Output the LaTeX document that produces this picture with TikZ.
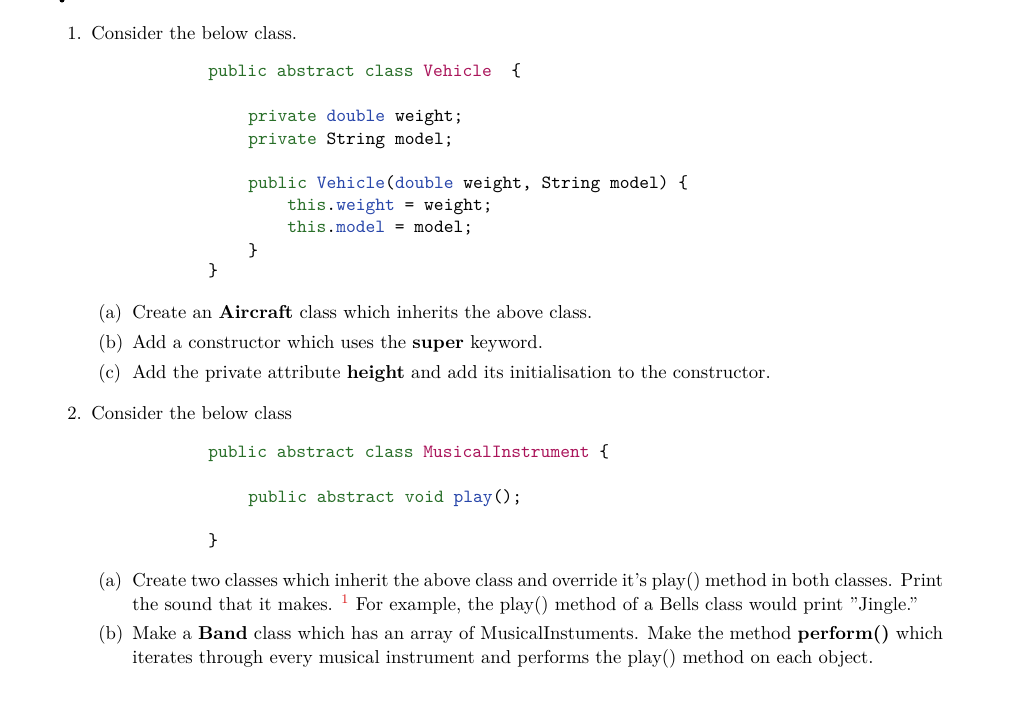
\documentclass[tikz,border=0pt]{standalone}
\usepackage{xcolor}
\definecolor{kw}{RGB}{40,110,40}
\definecolor{cls}{RGB}{170,20,90}
\definecolor{ty}{RGB}{40,70,170}
\definecolor{fn}{RGB}{220,30,30}
\newcommand{\K}[1]{\textcolor{kw}{#1}}
\newcommand{\C}[1]{\textcolor{cls}{#1}}
\newcommand{\T}[1]{\textcolor{ty}{#1}}
\begin{document}
\begin{tikzpicture}[x=1pt,y=-1pt,
  tx/.style={anchor=base west,inner sep=0pt,font=\normalsize,scale=1.868},
  cd/.style={anchor=base west,inner sep=0pt,font=\normalsize\ttfamily,scale=1.862}]
\useasboundingbox (0,0) rectangle (1015,702);
\fill (62,0) circle (2.5);
\node[tx] (n1) at (67,39) {1.};
\node[tx] (t1) at (91,39) {Consider the below class.};
\node[cd] (c1) at (208,76) {\K{public abstract class} \C{Vehicle}\ \ \{};
\node[cd] (c2) at (248,121) {\K{private} \T{double} weight;};
\node[cd] (c3) at (248,144) {\K{private} String model;};
\node[cd] (c4) at (248,188) {\K{public} \T{Vehicle}(\T{double} weight, String model) \{};
\node[cd] (c5) at (287,210) {\K{this}.\T{weight} = weight;};
\node[cd] (c6) at (287,232) {\K{this}.\T{model} = model;};
\node[cd] (c7) at (248,256) {\}};
\node[cd] (c8) at (208,276) {\}};
\node[tx] (a1) at (98,318) {(a)};
\node[tx] (a1t) at (132,318) {Create an \textbf{Aircraft} class which inherits the above class.};
\node[tx] (b1) at (98,348) {(b)};
\node[tx] (b1t) at (132,348) {Add a constructor which uses the \textbf{super} keyword.};
\node[tx] (e1) at (98,378) {(c)};
\node[tx] (e1t) at (132,378) {Add the private attribute \textbf{height} and add its initialisation to the constructor.};
\node[tx] (n2) at (67,419) {2.};
\node[tx] (t2) at (91,419) {Consider the below class};
\node[cd] (d1) at (208,457) {\K{public abstract class} \C{MusicalInstrument} \{};
\node[cd] (d2) at (248,502) {\K{public abstract void} \T{play}();};
\node[cd] (d3) at (208,546) {\}};
\node[tx] (a2) at (98,586) {(a)};
\node[tx] (a2t) at (132,586) {\makebox[434pt][s]{Create two classes which inherit the above class and override it's play() method in both classes. Print}};
\node[tx] (a2u) at (132,610) {the sound that it makes. \textsuperscript{\textcolor{fn}{1}} For example, the play() method of a Bells class would print "Jingle."};
\node[tx] (b2) at (98,639) {(b)};
\node[tx] (b2t) at (132,639) {\makebox[434pt][s]{Make a \textbf{Band} class which has an array of MusicalInstuments. Make the method \textbf{perform()} which}};
\node[tx] (b2u) at (132,663) {iterates through every musical instrument and performs the play() method on each object.};
\end{tikzpicture}
\end{document}
